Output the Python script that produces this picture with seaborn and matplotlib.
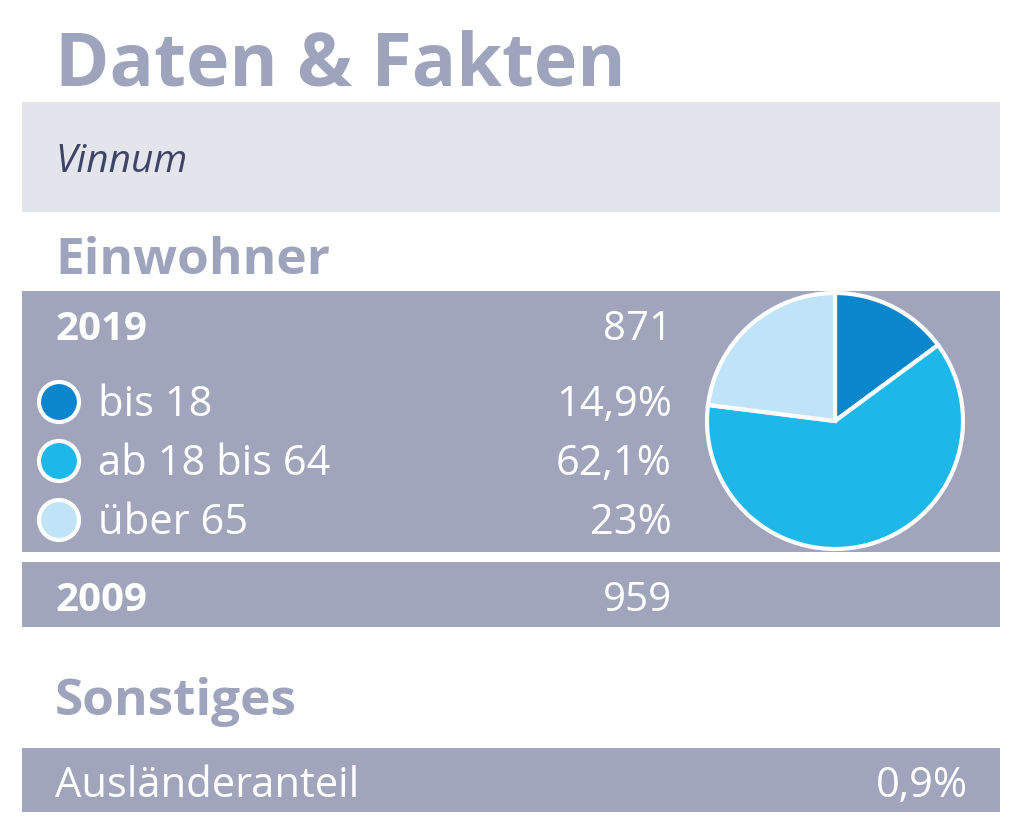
import matplotlib
matplotlib.use("Agg")
import matplotlib.pyplot as plt
import seaborn as sns
from matplotlib.patches import Rectangle, Circle

sns.set_theme(style="white")

# data
place = "Vinnum"
year_now, pop_now = "2019", "871"
year_old, pop_old = "2009", "959"
age_labels = ["bis 18", "ab 18 bis 64", "über 65"]
age_shares = [14.9, 62.1, 23.0]
age_texts = ["14,9%", "62,1%", "23%"]
age_colors = ["#0a86cc", "#1db7ea", "#c0e3f7"]
foreign_label, foreign_text = "Ausländeranteil", "0,9%"

FONT = "Open Sans"
TITLE_C = "#9ea4bb"
BOX_C = "#a0a5bc"

fig = plt.figure(figsize=(10.24, 8.38), dpi=100)
ax = fig.add_axes([0, 0, 1, 1])
ax.set_xlim(0, 1024); ax.set_ylim(838, 0); ax.axis("off")

ax.text(55, 85, "Daten & Fakten", fontsize=53, fontweight="bold", color=TITLE_C, family=FONT, va="baseline")
ax.add_patch(Rectangle((22, 102), 978, 110, color="#e4e5ec", lw=0))
ax.text(55, 172, place, fontsize=28, style="italic", color="#3d4466", family=FONT, va="baseline")
ax.text(55, 274, "Einwohner", fontsize=37, fontweight="bold", color=TITLE_C, family=FONT, va="baseline")

ax.add_patch(Rectangle((22, 291), 978, 261, color=BOX_C, lw=0))
ax.text(55, 340, year_now, fontsize=29, fontweight="bold", color="white", family=FONT, va="baseline")
ax.text(672, 340, pop_now, fontsize=29, color="white", family=FONT, va="baseline", ha="right")
for i, (lab, txt, col) in enumerate(zip(age_labels, age_texts, age_colors)):
    y = 402 + i * 59
    ax.add_patch(Circle((59, y), 20, facecolor=col, edgecolor="white", lw=3, zorder=3))
    ax.text(98, y + 14, lab, fontsize=30, color="white", family=FONT, va="baseline")
    ax.text(672, y + 14, txt, fontsize=30, color="white", family=FONT, va="baseline", ha="right")

# y axis is inverted, so angles are mirrored: start at -90, counterclockwise in data = clockwise on screen from top
ax.pie(age_shares, colors=age_colors, startangle=-90, counterclock=True,
       center=(835, 421), radius=128, frame=True,
       wedgeprops=dict(edgecolor="white", linewidth=3))
ax.set_xlim(0, 1024); ax.set_ylim(838, 0); ax.axis("off")

ax.add_patch(Rectangle((22, 562), 978, 65, color=BOX_C, lw=0))
ax.text(55, 611, year_old, fontsize=29, fontweight="bold", color="white", family=FONT, va="baseline")
ax.text(672, 611, pop_old, fontsize=29, color="white", family=FONT, va="baseline", ha="right")

ax.text(55, 715, "Sonstiges", fontsize=37, fontweight="bold", color=TITLE_C, family=FONT, va="baseline")
ax.add_patch(Rectangle((22, 748), 978, 64, color=BOX_C, lw=0))
ax.text(55, 797, foreign_label, fontsize=30, color="white", family=FONT, va="baseline")
ax.text(968, 797, foreign_text, fontsize=30, color="white", family=FONT, va="baseline", ha="right")

fig.savefig("out.png", dpi=100)
